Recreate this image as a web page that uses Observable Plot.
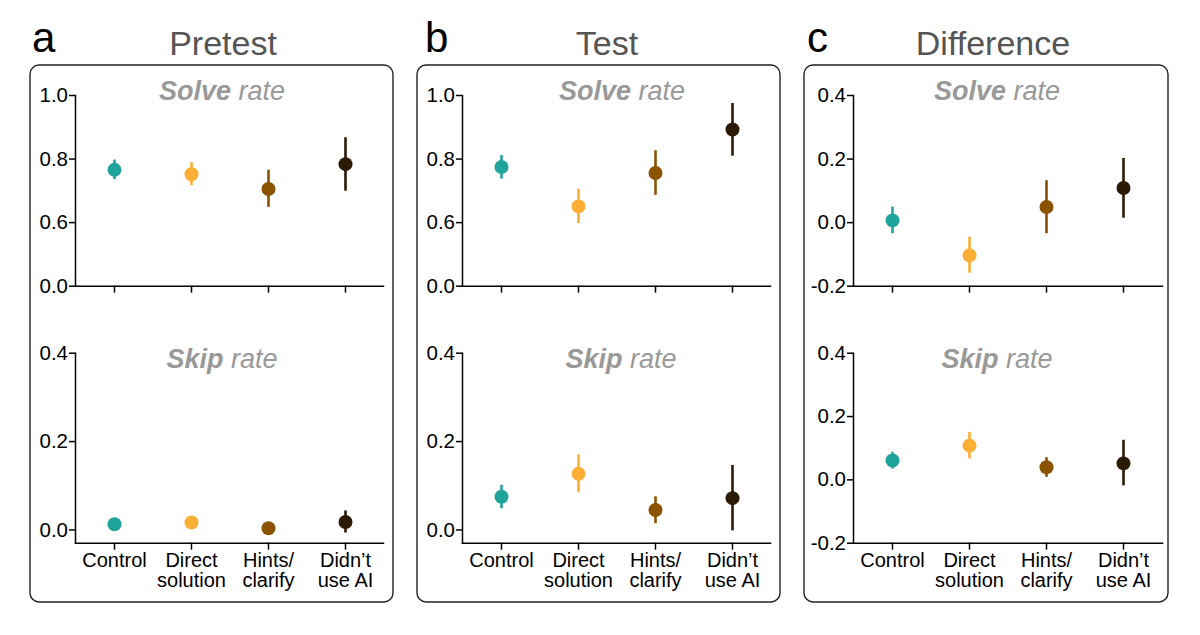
<!DOCTYPE html>
<html>
<head>
<meta charset="utf-8">
<script src="https://cdn.jsdelivr.net/npm/d3@7"></script>
<script src="https://cdn.jsdelivr.net/npm/@observablehq/plot@0.6"></script>
<style>
  body { margin: 0; background: #fff; }
  #root { position: relative; width: 1200px; height: 635px; overflow: hidden; background: #fff;
          font-family: "Liberation Sans", Arial, Helvetica, sans-serif; }
  .plot { position: absolute; }
  #overlay { position: absolute; left: 0; top: 0; pointer-events: none; }
</style>
</head>
<body>
<div id="root"></div>
<script>
// ---------------- data ----------------
const categories = ["Control", "Direct\nsolution", "Hints/\nclarify", "Didn’t\nuse AI"];
const groupColors = ["#1fa39a", "#fdae35", "#8b5200", "#2a1a06"];
const panelLetters = ["a", "b", "c"];
const panelTitles = ["Pretest", "Test", "Difference"];
const measureBold = ["Solve", "Skip"];
const measureRest = "rate";

const pretestSolveMean = [0.766, 0.752, 0.706, 0.784];
const pretestSolveLow  = [0.735, 0.716, 0.648, 0.699];
const pretestSolveHigh = [0.797, 0.789, 0.765, 0.867];
const pretestSkipMean  = [0.013, 0.017, 0.004, 0.018];
const pretestSkipLow   = [0.007, 0.011, 0.000, -0.007];
const pretestSkipHigh  = [0.019, 0.023, 0.008, 0.043];

const testSolveMean = [0.775, 0.651, 0.756, 0.893];
const testSolveLow  = [0.737, 0.597, 0.686, 0.809];
const testSolveHigh = [0.811, 0.705, 0.826, 0.975];
const testSkipMean  = [0.075, 0.127, 0.045, 0.072];
const testSkipLow   = [0.048, 0.084, 0.014, -0.002];
const testSkipHigh  = [0.101, 0.170, 0.075, 0.146];

const diffSolveMean = [0.007, -0.103, 0.049, 0.109];
const diffSolveLow  = [-0.035, -0.159, -0.035, 0.014];
const diffSolveHigh = [0.049, -0.046, 0.132, 0.202];
const diffSkipMean  = [0.061, 0.108, 0.040, 0.052];
const diffSkipLow   = [0.034, 0.066, 0.008, -0.019];
const diffSkipHigh  = [0.087, 0.150, 0.070, 0.125];

// broken solve-rate axis (panels a, b): the lowest tick sits at the 0.4 position but reads "0.0"
const brokenTicks = [0.4, 0.6, 0.8, 1.0];
const brokenTickLabels = ["0.0", "0.6", "0.8", "1.0"];
const skipTicks = [0, 0.2, 0.4];
const skipTickLabels = ["0.0", "0.2", "0.4"];
const diffTicks = [-0.2, 0, 0.2, 0.4];
const diffTickLabels = ["-0.2", "0.0", "0.2", "0.4"];

// ---------------- layout ----------------
const FONT = '"Liberation Sans", Arial, Helvetica, sans-serif';
const boxes = [
  {left: 30, right: 393, axis: 75, end: 383},
  {left: 417, right: 780, axis: 462, end: 770},
  {left: 804, right: 1168, axis: 853, end: 1162}
];
const boxTop = 65, boxBottom = 602;
const titleCenters = [223, 607, 993];
const letterX = [32, 425, 807];
const subCenters = [[222, 622, 997], [222, 621, 997]];

const panelSeries = [
  {
    solve: {mean: pretestSolveMean, low: pretestSolveLow, high: pretestSolveHigh, domain: [0.4, 1.0], ticks: brokenTicks, labels: brokenTickLabels},
    skip:  {mean: pretestSkipMean, low: pretestSkipLow, high: pretestSkipHigh, domain: [-0.03, 0.4], ticks: skipTicks, labels: skipTickLabels}
  },
  {
    solve: {mean: testSolveMean, low: testSolveLow, high: testSolveHigh, domain: [0.4, 1.0], ticks: brokenTicks, labels: brokenTickLabels},
    skip:  {mean: testSkipMean, low: testSkipLow, high: testSkipHigh, domain: [-0.03, 0.4], ticks: skipTicks, labels: skipTickLabels}
  },
  {
    solve: {mean: diffSolveMean, low: diffSolveLow, high: diffSolveHigh, domain: [-0.2, 0.4], ticks: diffTicks, labels: diffTickLabels},
    skip:  {mean: diffSkipMean, low: diffSkipLow, high: diffSkipHigh, domain: [-0.2, 0.4], ticks: diffTicks, labels: diffTickLabels}
  }
];

const root = document.getElementById("root");

function makePlot(series, box, row) {
  const data = categories.map((c, i) => ({
    cat: c, mean: series.mean[i], low: series.low[i], high: series.high[i], color: groupColors[i]
  }));
  const top = row === 0 ? 65 : 300;
  const height = row === 0 ? 236 : 300;
  const marginTop = row === 0 ? 30 : 52.7;
  const marginBottom = row === 0 ? 15.3 : 57.3;
  const width = box.right - box.left;
  const fmt = d => {
    const i = series.ticks.findIndex(t => Math.abs(t - d) < 1e-9);
    return i >= 0 ? series.labels[i] : "";
  };
  const chart = Plot.plot({
    width, height,
    marginLeft: box.axis - box.left,
    marginRight: box.right - box.end,
    marginTop, marginBottom,
    style: {fontFamily: FONT, fontSize: "20px", color: "#000", background: "transparent", overflow: "visible"},
    x: {type: "point", domain: categories, padding: 0.5},
    y: {domain: series.domain},
    color: {type: "identity"},
    marks: [
      Plot.frame({anchor: "left", stroke: "#000", strokeWidth: 1.5}),
      Plot.frame({anchor: "bottom", stroke: "#000", strokeWidth: 1.5}),
      Plot.axisY({ticks: series.ticks, tickFormat: fmt, tickSize: 6, tickPadding: 1.5, strokeWidth: 1.5, fontSize: 20.5, label: null}),
      Plot.axisX({tickSize: 7, tickPadding: 3, strokeWidth: 1.5, fontSize: 20, lineHeight: 1.0, label: null,
                  tickFormat: row === 1 ? (d => d) : (() => "")}),
      Plot.ruleX(data, {x: "cat", y1: "low", y2: "high", stroke: "color", strokeWidth: 2.6}),
      Plot.dot(data, {x: "cat", y: "mean", fill: "color", r: 7})
    ]
  });
  chart.classList.add("plot");
  chart.style.left = box.left + "px";
  chart.style.top = top + "px";
  root.appendChild(chart);
}

panelSeries.forEach((p, i) => {
  makePlot(p.solve, boxes[i], 0);
  makePlot(p.skip, boxes[i], 1);
});

// overlay: boxes, panel letters, titles, sub-titles
const NS = "http://www.w3.org/2000/svg";
const ov = document.createElementNS(NS, "svg");
ov.setAttribute("id", "overlay");
ov.setAttribute("width", 1200);
ov.setAttribute("height", 635);
ov.style.fontFamily = FONT;
function el(tag, attrs, text) {
  const e = document.createElementNS(NS, tag);
  for (const k in attrs) e.setAttribute(k, attrs[k]);
  if (text != null) e.textContent = text;
  return e;
}
boxes.forEach((b, i) => {
  ov.appendChild(el("rect", {x: b.left, y: boxTop, width: b.right - b.left, height: boxBottom - boxTop,
    rx: 9, ry: 9, fill: "none", stroke: "#222", "stroke-width": 1.4}));
  ov.appendChild(el("text", {x: letterX[i], y: 52, "font-size": 42, fill: "#000"}, panelLetters[i]));
  ov.appendChild(el("text", {x: titleCenters[i], y: 55, "font-size": 34, fill: "#555", "text-anchor": "middle"}, panelTitles[i]));
  [100, 368].forEach((y, r) => {
    const t = el("text", {x: subCenters[r][i], y, "font-size": 27, fill: "#999", "text-anchor": "middle", "font-style": "italic"});
    t.appendChild(el("tspan", {"font-weight": "bold"}, measureBold[r]));
    t.appendChild(el("tspan", {}, " " + measureRest));
    ov.appendChild(t);
  });
});
root.appendChild(ov);
</script>
</body>
</html>
